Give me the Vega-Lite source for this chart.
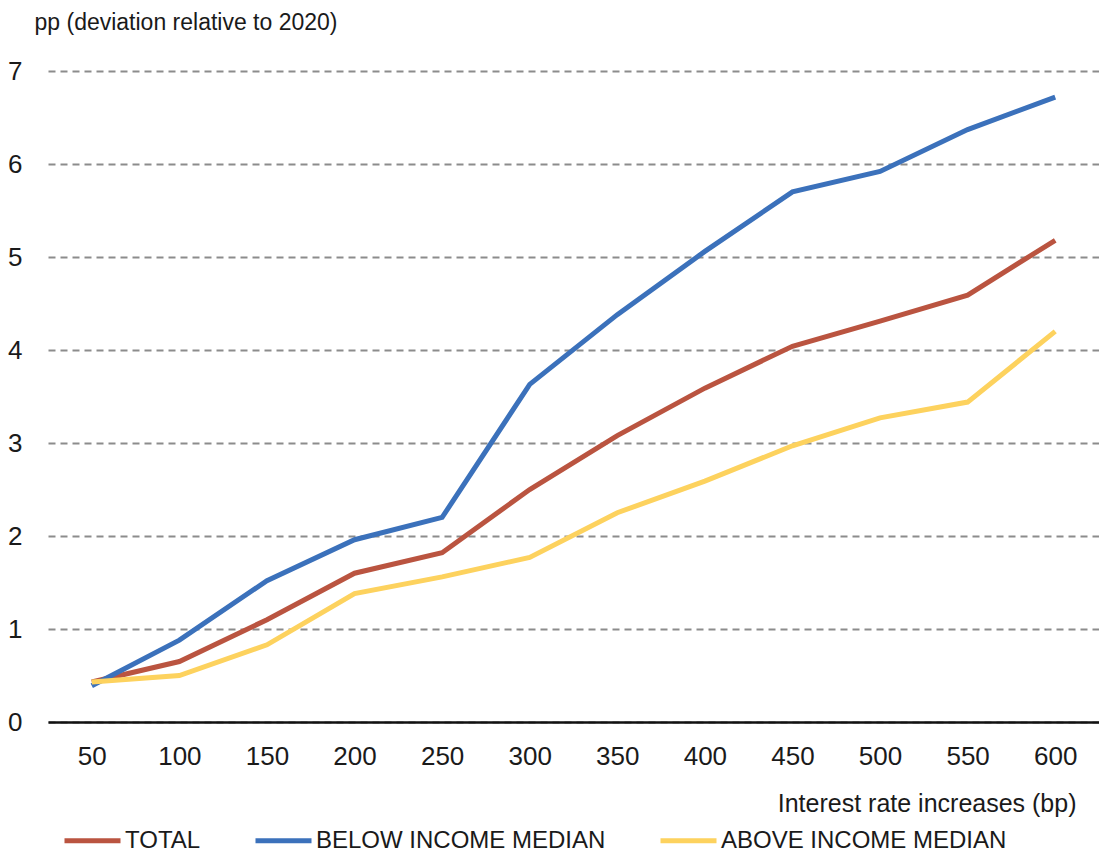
{
  "$schema": "https://vega.github.io/schema/vega-lite/v6.json",
  "autosize": "none",
  "width": 1051,
  "height": 651,
  "padding": {"left": 48, "top": 71, "right": 0, "bottom": 133},
  "background": "white",
  "config": {
    "font": "Liberation Sans",
    "view": {"stroke": null}
  },
  "data": {
    "values": [
      {"bp": "50", "group": "TOTAL", "pp": 0.43},
      {"bp": "100", "group": "TOTAL", "pp": 0.65},
      {"bp": "150", "group": "TOTAL", "pp": 1.1},
      {"bp": "200", "group": "TOTAL", "pp": 1.6},
      {"bp": "250", "group": "TOTAL", "pp": 1.82},
      {"bp": "300", "group": "TOTAL", "pp": 2.5},
      {"bp": "350", "group": "TOTAL", "pp": 3.08},
      {"bp": "400", "group": "TOTAL", "pp": 3.59},
      {"bp": "450", "group": "TOTAL", "pp": 4.04},
      {"bp": "500", "group": "TOTAL", "pp": 4.31},
      {"bp": "550", "group": "TOTAL", "pp": 4.59},
      {"bp": "600", "group": "TOTAL", "pp": 5.18},
      {"bp": "50", "group": "BELOW INCOME MEDIAN", "pp": 0.39},
      {"bp": "100", "group": "BELOW INCOME MEDIAN", "pp": 0.88},
      {"bp": "150", "group": "BELOW INCOME MEDIAN", "pp": 1.52},
      {"bp": "200", "group": "BELOW INCOME MEDIAN", "pp": 1.96},
      {"bp": "250", "group": "BELOW INCOME MEDIAN", "pp": 2.2},
      {"bp": "300", "group": "BELOW INCOME MEDIAN", "pp": 3.63},
      {"bp": "350", "group": "BELOW INCOME MEDIAN", "pp": 4.38},
      {"bp": "400", "group": "BELOW INCOME MEDIAN", "pp": 5.06},
      {"bp": "450", "group": "BELOW INCOME MEDIAN", "pp": 5.7},
      {"bp": "500", "group": "BELOW INCOME MEDIAN", "pp": 5.92},
      {"bp": "550", "group": "BELOW INCOME MEDIAN", "pp": 6.37},
      {"bp": "600", "group": "BELOW INCOME MEDIAN", "pp": 6.72},
      {"bp": "50", "group": "ABOVE INCOME MEDIAN", "pp": 0.43},
      {"bp": "100", "group": "ABOVE INCOME MEDIAN", "pp": 0.5},
      {"bp": "150", "group": "ABOVE INCOME MEDIAN", "pp": 0.83},
      {"bp": "200", "group": "ABOVE INCOME MEDIAN", "pp": 1.38},
      {"bp": "250", "group": "ABOVE INCOME MEDIAN", "pp": 1.56},
      {"bp": "300", "group": "ABOVE INCOME MEDIAN", "pp": 1.77},
      {"bp": "350", "group": "ABOVE INCOME MEDIAN", "pp": 2.25},
      {"bp": "400", "group": "ABOVE INCOME MEDIAN", "pp": 2.59},
      {"bp": "450", "group": "ABOVE INCOME MEDIAN", "pp": 2.97},
      {"bp": "500", "group": "ABOVE INCOME MEDIAN", "pp": 3.27},
      {"bp": "550", "group": "ABOVE INCOME MEDIAN", "pp": 3.44},
      {"bp": "600", "group": "ABOVE INCOME MEDIAN", "pp": 4.2}
    ]
  },
  "mark": {"type": "line", "strokeWidth": 5, "strokeJoin": "miter", "strokeCap": "butt"},
  "encoding": {
    "x": {
      "field": "bp",
      "type": "ordinal",
      "sort": null,
      "scale": {"padding": 0.5},
      "axis": {
        "title": "Interest rate increases (bp)",
        "titleFontSize": 25,
        "titleFontWeight": "normal",
        "titleColor": "#1a1a1a",
        "titleAlign": "right",
        "titleAnchor": null,
        "titleX": 1028,
        "titleY": 81,
        "titleBaseline": "middle",
        "labelAngle": 0,
        "labelFontSize": 26,
        "labelColor": "#1a1a1a",
        "labelPadding": 21,
        "ticks": false,
        "domainColor": "#111111",
        "domainWidth": 2.5,
        "grid": false
      }
    },
    "y": {
      "field": "pp",
      "type": "quantitative",
      "scale": {"domain": [0, 7], "nice": false, "zero": true},
      "axis": {
        "title": "pp (deviation relative to 2020)",
        "titleAngle": 0,
        "titleAlign": "left",
        "titleBaseline": "middle",
        "titleX": -14,
        "titleY": -49,
        "titleFontSize": 23,
        "titleFontWeight": "normal",
        "titleColor": "#1a1a1a",
        "values": [0, 1, 2, 3, 4, 5, 6, 7],
        "labelFontSize": 26,
        "labelColor": "#1a1a1a",
        "labelPadding": 26,
        "ticks": false,
        "domain": false,
        "grid": true,
        "gridColor": "#8c8c8c",
        "gridWidth": 2,
        "gridDash": [7, 5]
      }
    },
    "color": {
      "field": "group",
      "type": "nominal",
      "sort": ["TOTAL", "BELOW INCOME MEDIAN", "ABOVE INCOME MEDIAN"],
      "scale": {
        "domain": ["TOTAL", "BELOW INCOME MEDIAN", "ABOVE INCOME MEDIAN"],
        "range": ["#BA5440", "#3B71BB", "#FDD25E"]
      },
      "legend": {
        "title": null,
        "orient": "none",
        "direction": "horizontal",
        "legendX": 14,
        "legendY": 739,
        "symbolType": "stroke",
        "symbolSize": 3136,
        "symbolStrokeWidth": 5,
        "labelFontSize": 24,
        "labelColor": "#1a1a1a",
        "labelOffset": 2,
        "columnPadding": 44,
        "labelLimit": 400
      }
    }
  }
}
